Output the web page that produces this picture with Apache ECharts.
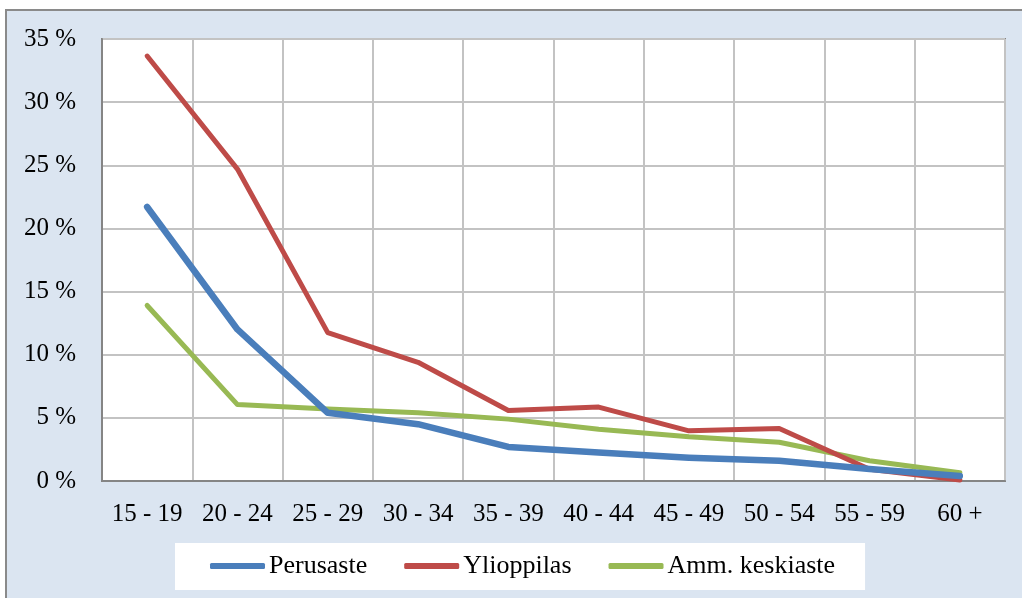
<!DOCTYPE html>
<html>
<head>
<meta charset="utf-8">
<script src="https://cdn.jsdelivr.net/npm/echarts@6/dist/echarts.min.js"></script>
<style>
html,body{margin:0;padding:0;background:#ffffff;}
#c{width:1022px;height:598px;}
</style>
</head>
<body>
<div id="c"></div>
<script>
const categories = ['15 - 19','20 - 24','25 - 29','30 - 34','35 - 39','40 - 44','45 - 49','50 - 54','55 - 59','60 +'];
const perusaste = [21.7, 12.0, 5.4, 4.5, 2.7, 2.25, 1.85, 1.6, 0.95, 0.4];
const ylioppilas = [33.65, 24.7, 11.75, 9.4, 5.58, 5.85, 3.97, 4.15, 0.93, 0.08];
const ammKeskiaste = [13.9, 6.05, 5.7, 5.4, 4.9, 4.1, 3.5, 3.07, 1.6, 0.66];
const seriesNames = ['Perusaste','Ylioppilas','Amm. keskiaste'];
const yTicks = {min:0, max:35, interval:5};

const chart = echarts.init(document.getElementById('c'), null, {renderer:'canvas'});
const font = '"Liberation Serif", "Times New Roman", serif';
const colors = ['#4a7ebb','#be4b48','#98b954'];
const widths = [6.5, 5, 5];
const dataSets = [perusaste, ylioppilas, ammKeskiaste];

chart.setOption({
  animation:false,
  graphic:[{
    type:'rect', z:-10, silent:true,
    shape:{x:6, y:10, width:1030, height:600},
    style:{fill:'#dbe5f1', stroke:'#8a8a8a', lineWidth:2}
  }],
  grid:{left:102, top:39, right:17, bottom:117, show:true, backgroundColor:'#ffffff', borderColor:'#858585', borderWidth:2, containLabel:false},
  xAxis:{
    type:'category', data:categories, boundaryGap:true,
    axisLine:{show:true, lineStyle:{color:'#858585', width:2}},
    axisTick:{show:false},
    axisLabel:{color:'#000', fontFamily:font, fontSize:25, margin:21, interval:0},
    splitLine:{show:true, lineStyle:{color:'#c3c3c3', width:2}}
  },
  yAxis:{
    type:'value', min:yTicks.min, max:yTicks.max, interval:yTicks.interval,
    axisLine:{show:true, lineStyle:{color:'#858585', width:2}},
    axisTick:{show:false},
    axisLabel:{color:'#000', fontFamily:font, fontSize:25, margin:26, formatter:'{value} %'},
    splitLine:{show:true, lineStyle:{color:'#c3c3c3', width:2}}
  },
  legend:{
    left:175, top:543,
    backgroundColor:'#ffffff',
    padding:[10, 30, 11, 35],
    itemGap:37, itemWidth:55, itemHeight:6,
    icon:'roundRect',
    textStyle:{color:'#000', fontFamily:font, fontSize:26, padding:[0,0,0,-1]},
    data:seriesNames
  },
  series: seriesNames.map((n,i)=>({
    name:n, type:'line', data:dataSets[i],
    symbol:'none', smooth:false,
    lineStyle:{color:colors[i], width:widths[i], cap:'round', join:'round'},
    itemStyle:{color:colors[i]},
    z: 10 - i
  }))
});
</script>
</body>
</html>
